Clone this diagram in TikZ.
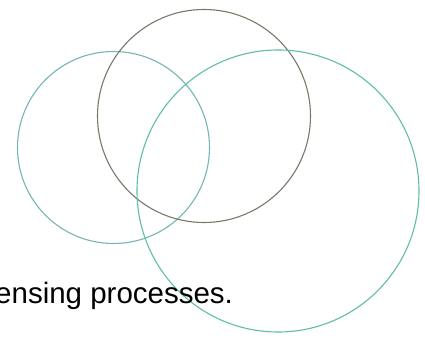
\documentclass[tikz,border=0pt]{standalone}
\usepackage{fontspec}
\setmainfont{Liberation Sans}
\definecolor{tealring}{HTML}{76B6B3}
\definecolor{taupering}{HTML}{7D776A}
\definecolor{mintring}{HTML}{5FBFA3}
\begin{document}
\begin{tikzpicture}[x=1pt,y=1pt,
  ring/.style={line width=1.1pt},
  caption/.style={anchor=base west,inner sep=0pt,font=\fontsize{29.5}{35}\selectfont}]
\useasboundingbox (0,0) rectangle (425,338);
\clip (0,0) rectangle (425,338);
\fill[white] (0,0) rectangle (425,338);
% three overlapping rings
\draw[ring,tealring]   (113.5,190.5) circle[radius=96];
\draw[ring,taupering]  (204,222)     circle[radius=106.5];
\draw[ring,mintring]   (278,147)     circle[radius=141];
% trailing caption line
\node[caption] (cap) at (-5,35) {ensing processes.};
\end{tikzpicture}
\end{document}
